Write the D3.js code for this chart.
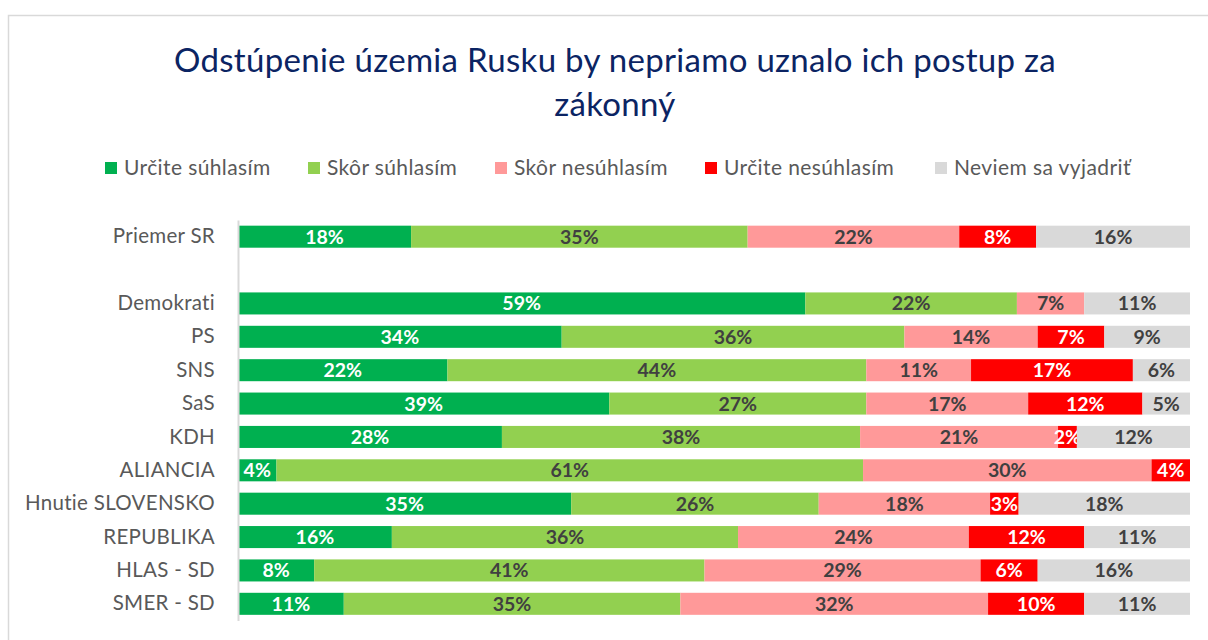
<!DOCTYPE html>
<html>
<head>
<meta charset="utf-8">
<script src="https://cdn.jsdelivr.net/npm/d3@7"></script>
<style>
  body { margin: 0; background: #fff; }
  svg { display: block; font-family: Lato, "Open Sans", sans-serif; }
</style>
</head>
<body>
<div id="chart"></div>
<script>
// Categories (top to bottom); a blank row separates the average from the parties
const categories = ['Priemer SR', 'Demokrati', 'PS', 'SNS', 'SaS', 'KDH', 'ALIANCIA',
  'Hnutie SLOVENSKO', 'REPUBLIKA', 'HLAS - SD', 'SMER - SD'];

const seriesNames = ['Určite súhlasím', 'Skôr súhlasím', 'Skôr nesúhlasím', 'Určite nesúhlasím', 'Neviem sa vyjadriť'];

// values in %, one array per series, same order as categories
const urciteSuhlasim   = [18, 59, 34, 22, 39, 28, 4, 35, 16, 8, 11];
const skorSuhlasim     = [35, 22, 36, 44, 27, 38, 61, 26, 36, 41, 35];
const skorNesuhlasim   = [22, 7, 14, 11, 17, 21, 30, 18, 24, 29, 32];
const urciteNesuhlasim = [8, 0, 7, 17, 12, 2, 4, 3, 12, 6, 10];
const neviem           = [16, 11, 9, 6, 5, 12, 0, 18, 11, 16, 11];

const colors = ['#00B050', '#92D050', '#FF9999', '#FF0000', '#D9D9D9'];
const labelColors = ['#fff', '#404040', '#404040', '#fff', '#404040'];

const W = 1208, H = 640;
const svg = d3.select('#chart').append('svg').attr('width', W).attr('height', H);

// outer frame
svg.append('rect')
  .attr('x', 8.5).attr('y', 15.5)
  .attr('width', W).attr('height', H)
  .attr('fill', 'none').attr('stroke', '#d9d9d9').attr('stroke-width', 1.5);

// title
const title = svg.append('text')
  .attr('text-anchor', 'middle')
  .attr('fill', '#0B2463')
  .attr('font-size', 33)
  .attr('letter-spacing', 0.3);
title.append('tspan').attr('x', 615).attr('y', 72).text('Odstúpenie územia Rusku by nepriamo uznalo ich postup za');
title.append('tspan').attr('x', 615).attr('y', 116).text('zákonný');

// legend
const legendX = [105, 308, 495, 705, 935];
const legend = svg.append('g').selectAll('g')
  .data(seriesNames)
  .join('g')
  .attr('transform', (d, i) => `translate(${legendX[i]},168)`);
legend.append('rect')
  .attr('x', 0).attr('y', -6).attr('width', 12).attr('height', 12)
  .attr('fill', (d, i) => colors[i]);
legend.append('text')
  .attr('x', 19).attr('dy', '0.35em')
  .attr('font-size', 21).attr('letter-spacing', 0.4).attr('fill', '#595959')
  .text(d => d);

// build table for stacking
const rows = categories.map((c, i) => ({
  cat: c,
  0: urciteSuhlasim[i], 1: skorSuhlasim[i], 2: skorNesuhlasim[i],
  3: urciteNesuhlasim[i], 4: neviem[i]
}));
const stack = d3.stack().keys([0, 1, 2, 3, 4]).offset(d3.stackOffsetExpand);
const series = stack(rows);

const x0 = 238, x1 = 1190;
const x = d3.scaleLinear().domain([0, 1]).range([x0, x1]);
const domain = [categories[0], '__gap__', ...categories.slice(1)];
const y = d3.scaleBand().domain(domain).range([220, 620.5]).paddingInner(0.34).paddingOuter(0.17);

// bars
const layer = svg.append('g').selectAll('g')
  .data(series)
  .join('g')
  .attr('fill', d => colors[d.key]);
layer.selectAll('rect')
  .data(d => d)
  .join('rect')
  .attr('x', d => x(d[0]))
  .attr('y', d => y(d.data.cat))
  .attr('width', d => Math.max(0, x(d[1]) - x(d[0])))
  .attr('height', y.bandwidth());

// value labels
layer.selectAll('text')
  .data(d => d.map(v => ({ v, key: d.key })).filter(o => o.v.data[o.key] > 0))
  .join('text')
  .attr('x', o => (x(o.v[0]) + x(o.v[1])) / 2)
  .attr('y', o => y(o.v.data.cat) + y.bandwidth() / 2)
  .attr('dy', '0.36em')
  .attr('text-anchor', 'middle')
  .attr('font-size', 19.5).attr('font-weight', 700)
  .attr('fill', o => labelColors[o.key])
  .text(o => o.v.data[o.key] + '%');

// category axis
const axis = svg.append('g')
  .attr('transform', `translate(${x0},0)`)
  .call(d3.axisLeft(y).tickSize(0).tickPadding(23).tickFormat(d => d === '__gap__' ? '' : d));
axis.select('.domain').attr('stroke', '#d9d9d9').attr('stroke-width', 2);
axis.selectAll('text')
  .attr('font-family', 'Lato, sans-serif')
  .attr('font-size', 20.5)
  .attr('letter-spacing', 0.3)
  .attr('fill', '#595959');
</script>
</body>
</html>
